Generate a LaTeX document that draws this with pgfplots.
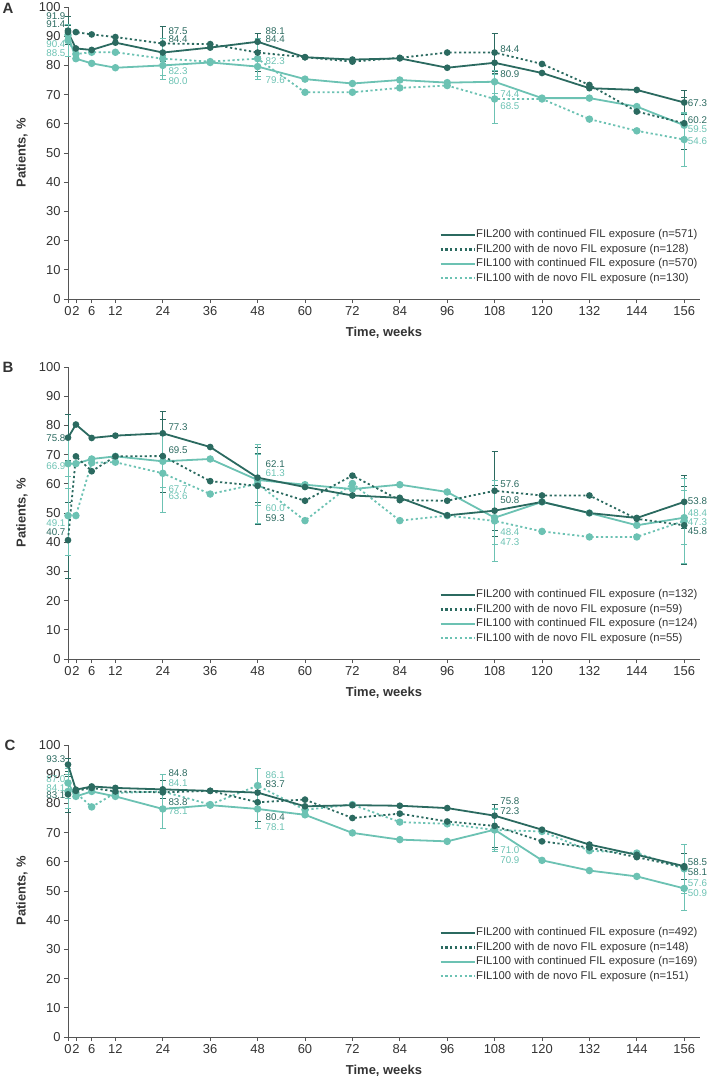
\documentclass[border=0pt]{standalone}
\usepackage{fontspec}
\setmainfont{Liberation Sans}
\usepackage{pgfplots}
\usepackage{pgfplotstable}
\pgfplotsset{compat=1.18}
\definecolor{dk}{HTML}{2B6A60}
\definecolor{lt}{HTML}{6CC2B3}
\definecolor{axc}{HTML}{555555}
\definecolor{txt}{HTML}{333333}

% a = FIL200 continued, b = FIL200 de novo, c = FIL100 continued, d = FIL100 de novo
\pgfplotstableread{
w a b c d
0 91.4 91.9 90.4 88.5
2 85.8 91.4 82.3 83.9
6 85.3 90.6 80.7 84.5
12 87.8 89.7 79.2 84.5
24 84.4 87.5 80.0 82.3
36 86.1 87.3 81.0 81.3
48 88.1 84.4 79.6 82.3
60 82.8 82.8 75.3 70.8
72 82.0 81.3 73.8 70.8
84 82.4 82.6 75.0 72.3
96 79.2 84.4 74.1 73.1
108 80.9 84.4 74.4 68.5
120 77.4 80.5 68.8 68.5
132 72.2 73.3 68.8 61.6
144 71.6 64.2 65.9 57.6
156 67.3 60.2 59.5 54.6
}\dataA
\pgfplotstableread{
w a ae b be c ce d de
0 91.4 2.3 91.9 4.8 90.4 2.4 88.5 5.5
24 84.4 3.0 87.5 6.0 80.0 3.3 82.3 7.0
48 88.1 2.8 84.4 6.6 79.6 3.4 82.3 7.0
108 80.9 3.5 84.4 6.6 74.4 3.8 68.5 8.5
156 67.3 4.0 60.2 9.0 59.5 4.3 54.6 9.0
}\errA

\pgfplotstableread{
w a b c d
0 75.8 40.7 66.9 49.1
2 80.3 69.4 66.9 49.1
6 75.7 64.3 68.5 67.2
12 76.5 69.4 69.4 67.4
24 77.3 69.5 67.7 63.6
36 72.6 60.9 68.5 56.5
48 62.1 59.3 61.3 60.0
60 58.9 54.2 59.7 47.4
72 56.0 62.8 58.2 60.1
84 55.2 54.4 59.7 47.4
96 49.2 54.2 57.2 49.1
108 50.8 57.6 48.4 47.3
120 53.8 56.0 53.8 43.7
132 50.0 56.0 50.0 41.8
144 48.3 48.0 45.8 41.8
156 53.8 45.8 48.4 47.3
}\dataB
\pgfplotstableread{
w a ae b be c ce d de
0 75.8 7.9 40.7 13.0 66.9 8.5 49.1 13.5
24 77.3 7.5 69.5 12.5 67.7 8.8 63.6 13.4
48 62.1 8.5 59.3 13.3 61.3 8.8 60.0 13.5
108 50.8 8.8 57.6 13.5 48.4 9.0 47.3 14.0
156 53.8 9.0 45.8 13.5 48.4 9.3 47.3 14.5
}\errB

\pgfplotstableread{
w a b c d
0 93.3 83.1 87.0 84.1
2 84.7 84.3 82.4 83.6
6 85.8 85.3 84.1 78.8
12 85.3 84.1 82.4 83.6
24 84.8 83.8 78.1 84.1
36 84.3 84.3 79.4 79.6
48 83.7 80.4 78.1 86.1
60 79.0 81.3 76.1 77.8
72 79.4 75.0 69.9 79.6
84 79.2 76.5 67.6 73.6
96 78.4 73.8 67.0 73.0
108 75.8 72.3 71.0 70.9
120 71.0 67.0 60.5 70.4
132 65.9 64.9 57.0 63.8
144 62.4 61.6 55.0 63.0
156 58.5 58.1 50.9 57.6
}\dataC
\pgfplotstableread{
w a ae b be c ce d de
0 93.3 2.2 83.1 6.0 87.0 5.1 84.1 5.8
24 84.8 3.2 83.8 6.0 78.1 6.5 84.1 5.8
48 83.7 3.3 80.4 6.5 78.1 6.5 86.1 6.0
108 75.8 3.8 72.3 7.3 71.0 6.9 70.9 7.3
156 58.5 4.4 58.1 8.0 50.9 7.6 57.6 8.5
}\errC

\pgfplotsset{
  panel/.style={
    scale only axis, width=632bp, height=292bp,
    xmin=0, xmax=160, ymin=0, ymax=100,
    axis lines=left, axis line style={-, draw=axc, line width=1bp},
    xtick={0,2,6,12,24,36,48,60,72,84,96,108,120,132,144,156},
    ytick={0,10,...,100},
    tick align=outside, major tick length=4bp, tick style={axc, line width=0.8bp},
    ticklabel style={font=\fontsize{13}{15}\selectfont, text=txt},
    /pgf/number format/assume math mode=true,
    xlabel={Time, weeks}, ylabel={Patients, \%},
    xlabel style={at={(axis description cs:0.5,-0.1164)}, anchor=center, font=\fontsize{13}{15}\selectfont\bfseries, text=txt},
    ylabel style={at={(axis description cs:-0.0728,0.5)}, anchor=center, font=\fontsize{13}{15}\selectfont\bfseries, text=txt},
    clip=false,
    reverse legend,
    legend style={draw=none, fill=none, font=\fontsize{11.3}{13}\selectfont, text=txt,
      anchor=south east, row sep=2.6bp, inner sep=0pt,
      nodes={inner sep=0.5bp, text height=8.2bp, text depth=2.6bp}},
    legend cell align=left,
    legend image code/.code={\draw[##1, line width=2.2bp] (0bp,0bp) -- (34bp,0bp);},
  },
  sA/.style={dk, line width=1.8bp, mark=*, mark size=2.4bp, mark options={solid}},
  sB/.style={dk, line width=1.8bp, dash pattern=on 2.2bp off 2.6bp, mark=*, mark size=2.4bp, mark options={solid}},
  sC/.style={lt, line width=1.8bp, mark=*, mark size=2.8bp, mark options={solid}},
  sD/.style={lt, line width=1.8bp, dash pattern=on 2.2bp off 2.6bp, mark=*, mark size=2.8bp, mark options={solid}},
  eb/.style={forget plot, only marks, mark=none, error bars/.cd, y dir=both, y explicit,
    error mark=-, error bar style={color=#1, line width=0.7bp, solid},
    error mark options={rotate=90, color=#1, mark size=3bp, line width=0.7bp, solid}},
}
\newcommand{\lbl}[4]{\node[anchor=#1, inner sep=0pt, text=#2, font=\fontsize{9.8}{12}\selectfont] at (axis cs:#3) {#4};}

\begin{document}
\begin{tikzpicture}
\useasboundingbox (0,0) rectangle (707bp,-1079bp);
\node[font=\fontsize{15}{17}\selectfont\bfseries, text=txt] at (8bp,-8bp) {A};
\node[font=\fontsize{15}{17}\selectfont\bfseries, text=txt] at (8bp,-367bp) {B};
\node[font=\fontsize{15}{17}\selectfont\bfseries, text=txt] at (10bp,-745bp) {C};

% ---------------- Panel A
\begin{axis}[panel, at={(68bp,-299bp)}, anchor=south west, legend style={at={(0.997,0.05)}}]
\addplot[eb=dk] table[x=w, y=a, y error=ae] {\errA};
\addplot[eb=dk] table[x=w, y=b, y error=be] {\errA};
\addplot[eb=lt] table[x=w, y=c, y error=ce] {\errA};
\addplot[eb=lt] table[x=w, y=d, y error=de] {\errA};
\addplot[sD] table[x=w, y=d] {\dataA};
\addplot[sC] table[x=w, y=c] {\dataA};
\addplot[sB] table[x=w, y=b] {\dataA};
\addplot[sA] table[x=w, y=a] {\dataA};
\legend{FIL100 with de novo FIL exposure (n=130), FIL100 with continued FIL exposure (n=570), FIL200 with de novo FIL exposure (n=128), FIL200 with continued FIL exposure (n=571)}
\lbl{east}{dk}{-0.6,97.0}{91.9}
\lbl{east}{dk}{-0.6,94.2}{91.4}
\lbl{east}{lt}{-0.6,87.2}{90.4}
\lbl{east}{lt}{-0.6,84.3}{88.5}
\lbl{west}{dk}{25.4,91.8}{87.5}
\lbl{west}{dk}{25.4,89.0}{84.4}
\lbl{west}{lt}{25.4,78.1}{82.3}
\lbl{west}{lt}{25.4,74.7}{80.0}
\lbl{west}{dk}{50,91.8}{88.1}
\lbl{west}{dk}{50,89.0}{84.4}
\lbl{west}{lt}{50,81.3}{82.3}
\lbl{west}{lt}{50,74.8}{79.6}
\lbl{west}{dk}{109.4,85.6}{84.4}
\lbl{west}{dk}{109.4,77.1}{80.9}
\lbl{west}{lt}{109.4,70.1}{74.4}
\lbl{west}{lt}{109.4,66.1}{68.5}
\lbl{west}{dk}{156.9,67.0}{67.3}
\lbl{west}{dk}{156.9,61.3}{60.2}
\lbl{west}{lt}{156.9,58.1}{59.5}
\lbl{west}{lt}{156.9,54.2}{54.6}
\end{axis}

% ---------------- Panel B
\begin{axis}[panel, at={(68bp,-659bp)}, anchor=south west, legend style={at={(0.997,0.05)}}]
\addplot[eb=dk] table[x=w, y=a, y error=ae] {\errB};
\addplot[eb=dk] table[x=w, y=b, y error=be] {\errB};
\addplot[eb=lt] table[x=w, y=c, y error=ce] {\errB};
\addplot[eb=lt] table[x=w, y=d, y error=de] {\errB};
\addplot[sD] table[x=w, y=d] {\dataB};
\addplot[sC] table[x=w, y=c] {\dataB};
\addplot[sB] table[x=w, y=b] {\dataB};
\addplot[sA] table[x=w, y=a] {\dataB};
\legend{FIL100 with de novo FIL exposure (n=55), FIL100 with continued FIL exposure (n=124), FIL200 with de novo FIL exposure (n=59), FIL200 with continued FIL exposure (n=132)}
\lbl{east}{dk}{-0.6,75.8}{75.8}
\lbl{east}{lt}{-0.6,65.9}{66.9}
\lbl{east}{lt}{-0.6,46.7}{49.1}
\lbl{east}{dk}{-0.6,43.6}{40.7}
\lbl{west}{dk}{25.4,79.5}{77.3}
\lbl{west}{dk}{25.4,71.5}{69.5}
\lbl{west}{lt}{25.4,58.2}{67.7}
\lbl{west}{lt}{25.4,55.7}{63.6}
\lbl{west}{dk}{50,66.9}{62.1}
\lbl{west}{lt}{50,63.7}{61.3}
\lbl{west}{lt}{50,51.7}{60.0}
\lbl{west}{dk}{50,48.3}{59.3}
\lbl{west}{dk}{109.4,60.0}{57.6}
\lbl{west}{dk}{109.4,54.4}{50.8}
\lbl{west}{lt}{109.4,43.5}{48.4}
\lbl{west}{lt}{109.4,40.1}{47.3}
\lbl{west}{dk}{156.9,54.0}{53.8}
\lbl{west}{lt}{156.9,50.0}{48.4}
\lbl{west}{lt}{156.9,46.8}{47.3}
\lbl{west}{dk}{156.9,43.7}{45.8}
\end{axis}

% ---------------- Panel C
\begin{axis}[panel, at={(68bp,-1037bp)}, anchor=south west, legend style={at={(0.997,0.187)}}]
\addplot[eb=dk] table[x=w, y=a, y error=ae] {\errC};
\addplot[eb=dk] table[x=w, y=b, y error=be] {\errC};
\addplot[eb=lt] table[x=w, y=c, y error=ce] {\errC};
\addplot[eb=lt] table[x=w, y=d, y error=de] {\errC};
\addplot[sD] table[x=w, y=d] {\dataC};
\addplot[sC] table[x=w, y=c] {\dataC};
\addplot[sB] table[x=w, y=b] {\dataC};
\addplot[sA] table[x=w, y=a] {\dataC};
\legend{FIL100 with de novo FIL exposure (n=151), FIL100 with continued FIL exposure (n=169), FIL200 with de novo FIL exposure (n=148), FIL200 with continued FIL exposure (n=492)}
\lbl{east}{dk}{-0.6,95.0}{93.3}
\lbl{east}{lt}{-0.6,88.4}{87.0}
\lbl{east}{lt}{-0.6,85.3}{84.1}
\lbl{east}{dk}{-0.6,83.0}{83.1}
\lbl{west}{dk}{25.4,90.4}{84.8}
\lbl{west}{lt}{25.4,87.0}{84.1}
\lbl{west}{dk}{25.4,80.3}{83.8}
\lbl{west}{lt}{25.4,77.3}{78.1}
\lbl{west}{lt}{50,89.8}{86.1}
\lbl{west}{dk}{50,86.7}{83.7}
\lbl{west}{dk}{50,75.3}{80.4}
\lbl{west}{lt}{50,71.8}{78.1}
\lbl{west}{dk}{109.4,80.7}{75.8}
\lbl{west}{dk}{109.4,77.3}{72.3}
\lbl{west}{lt}{109.4,63.9}{71.0}
\lbl{west}{lt}{109.4,60.7}{70.9}
\lbl{west}{dk}{156.9,59.8}{58.5}
\lbl{west}{dk}{156.9,56.4}{58.1}
\lbl{west}{lt}{156.9,52.7}{57.6}
\lbl{west}{lt}{156.9,49.3}{50.9}
\end{axis}
\end{tikzpicture}
\end{document}
